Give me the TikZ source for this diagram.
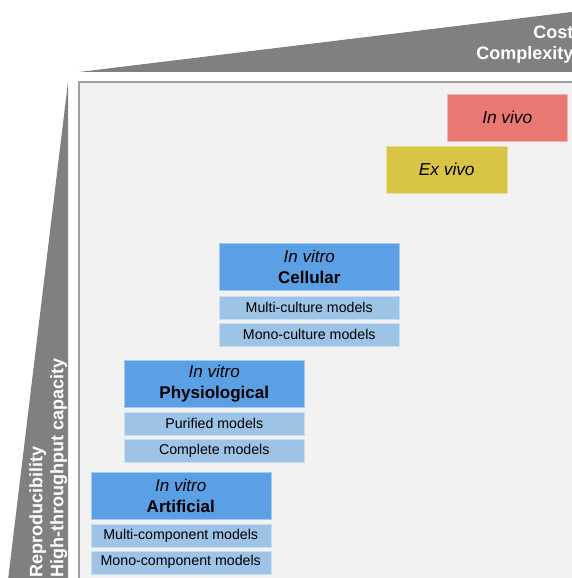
\documentclass[tikz,border=0pt]{standalone}
\usepackage{fontspec}
\setmainfont{Liberation Sans}
\usetikzlibrary{positioning}
\definecolor{wedgecol}{HTML}{808080}
\definecolor{framefill}{HTML}{F2F2F2}
\definecolor{framecol}{HTML}{9E9E9E}
\definecolor{hdrcol}{HTML}{5B9FE5}
\definecolor{subcol}{HTML}{9DC3E6}
\definecolor{vivocol}{HTML}{E97872}
\definecolor{excol}{HTML}{D8C445}

\begin{document}
\begin{tikzpicture}[x=1pt, y=-1pt, line join=round,
  wedge/.style={fill=wedgecol},
  axlbl/.style={text=white, font=\fontsize{18}{21}\selectfont\bfseries, inner sep=0pt},
  hdr/.style={fill=hdrcol, draw=hdrcol!55!white, line width=0.5pt,
    minimum width=180pt, minimum height=46.5pt, inner sep=0pt, align=center,
    font=\fontsize{17}{21}\selectfont, anchor=north west},
  sub/.style={fill=subcol, draw=subcol!55!white, line width=0.5pt,
    minimum width=180pt, minimum height=23pt, inner sep=0pt,
    font=\fontsize{14.2}{16}\selectfont},
  vivo/.style={draw=#1!55!white, fill=#1, line width=0.5pt, inner sep=0pt,
    minimum height=47pt, font=\fontsize{17.3}{21}\selectfont\itshape,
    anchor=north west}]

\clip (0,0) rectangle (572,578);

% ============================================== axes: the two wedges
\fill[wedge] (79,72) -- (580,11) -- (580,72) -- cycle;
\fill[wedge] (68,82) -- (68,580) -- (8,580) -- cycle;
\node[axlbl, align=right, anchor=north east] (cost) at (573.5,25.5)
  {Cost\\Complexity};
\node[axlbl, align=left, rotate=90, anchor=south west] (repro) at (67.5,578)
  {Reproducibility\\High-throughput capacity};

% ============================================== the panel
\draw[framecol, fill=framefill, line width=1.5pt] (79,82) rectangle (620,620);

% in vivo / ex vivo
\node[vivo=vivocol, minimum width=120pt] (invivo) at (447,94) {In vivo};
\node[vivo=excol, minimum width=121pt] (exvivo) at (386,146) {Ex vivo};

% in vitro: cellular
\node[hdr] (cell) at (219,243) {\textit{In vitro}\\\textbf{Cellular}};
\node[sub, below=5.5pt of cell] (multicult) {Multi-culture models};
\node[sub, below=3.5pt of multicult] (monocult) {Mono-culture models};

% in vitro: physiological
\node[hdr] (phys) at (124,360) {\textit{In vitro}\\\textbf{Physiological}};
\node[sub, below=5pt of phys] (purified) {Purified models};
\node[sub, below=3.5pt of purified] (complete) {Complete models};

% in vitro: artificial
\node[hdr] (artif) at (90.5,472) {\textit{In vitro}\\\textbf{Artificial}};
\node[sub, below=5pt of artif] (multicomp) {Multi-component models};
\node[sub, below=3pt of multicomp] (monocomp) {Mono-component models};

\end{tikzpicture}
\end{document}
